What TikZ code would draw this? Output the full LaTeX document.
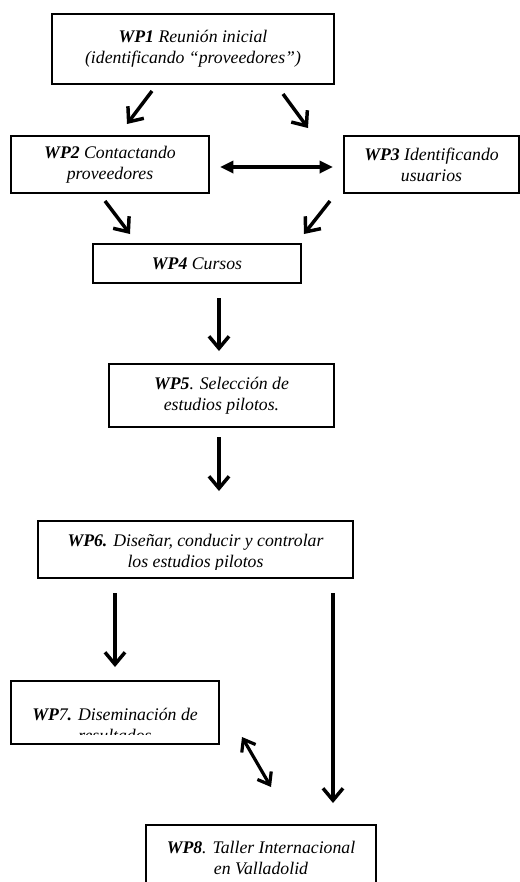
\documentclass[tikz,border=0pt]{standalone}
\usepackage{fontspec}
\setmainfont{Liberation Serif}
\usetikzlibrary{arrows.meta}
\newcommand{\wpfont}{\itshape\fontsize{13.3}{15.75}\selectfont}

\begin{document}
\begin{tikzpicture}[x=0.75pt,y=-0.75pt,
	wpbox/.style={draw,line width=0.9pt,inner sep=0pt,align=center,font=\wpfont},
	wptext/.style={inner sep=0pt,align=center,font=\wpfont},
	flow/.style={line width=2.6pt,-{Straight Barb[length=9pt,width=15pt]}},
	twoway/.style={line width=2.4pt,{Straight Barb[length=8pt,width=12pt]}-{Straight Barb[length=8pt,width=12pt]}},
	link/.style={line width=2.6pt,{Triangle[length=10pt,width=9pt]}-{Triangle[length=10pt,width=9pt]}}]
	\clip[use as bounding box] (0,0) rectangle (520,882);
	
	% Work packages
	\node[wpbox,minimum width=211.5pt,minimum height=52.5pt] (wp1) at (193,49)
		{\textbf{WP1} Reunión inicial\\(identificando “proveedores”)};
	\node[wpbox,minimum width=148.5pt,minimum height=42.75pt] (wp2) at (110,164.5)
		{\textbf{WP2} Contactando\\proveedores};
	\node[wpbox,minimum width=131.25pt,minimum height=42.75pt] (wp3) at (431.5,164.5)
		{\textbf{WP3} Identificando\\usuarios};
	\node[wpbox,minimum width=156pt,minimum height=29.25pt] (wp4) at (197,263.5)
		{\textbf{WP4} Cursos};
	\node[wpbox,minimum width=168.75pt,minimum height=47.25pt] (wp5) at (221.5,395.5)
		{\textbf{WP5}. Selección de\\estudios pilotos.};
	\node[wpbox,minimum width=236.25pt,minimum height=42.75pt] (wp6) at (195.5,549.5) {};
	\node[wpbox,minimum width=156pt,minimum height=47.25pt] (wp7) at (115,712.5) {};
	\node[wpbox,minimum width=172.5pt,minimum height=48.75pt] (wp8) at (261,857.5)
		{\textbf{WP8}. Taller Internacional\\en Valladolid};
	
	% Texts cut by their boxes
	\begin{scope}
		\clip (38,521) rectangle (353,569);
		\node[wptext] (wp6txt) at (195.5,553) {\textbf{WP6.} Diseñar, conducir y controlar\\los estudios pilotos};
	\end{scope}
	\begin{scope}
		\clip (11,681) rectangle (219,734);
		\node[wptext] (wp7txt) at (115,725) {\textbf{WP}7\textbf{.} Diseminación de\\resultados};
	\end{scope}
	
	% Arrow ends
	\foreach \n/\x/\y in {t12/152/91, h12/127/124, t13/283/94, h13/308/128,
		t23/220/167, h23/333/167, t24/105/201, h24/130/234, t34/330/201, h34/304/234,
		t45/219/298, h45/219/351, t56/219/437, h56/219/491,
		t67/115/593, h67/115/667, t68/333/593, h68/333/803, t78/242/737, h78/271/787}
		\coordinate (\n) at (\x,\y);
	
	% Arrows
	\foreach \a/\b in {t12/h12, t13/h13, t24/h24, t34/h34, t45/h45, t56/h56, t67/h67, t68/h68}
		\draw[flow] (\a) -- (\b);
	\draw[link] (t23) -- (h23);
	\draw[twoway] (t78) -- (h78);
\end{tikzpicture}
\end{document}
